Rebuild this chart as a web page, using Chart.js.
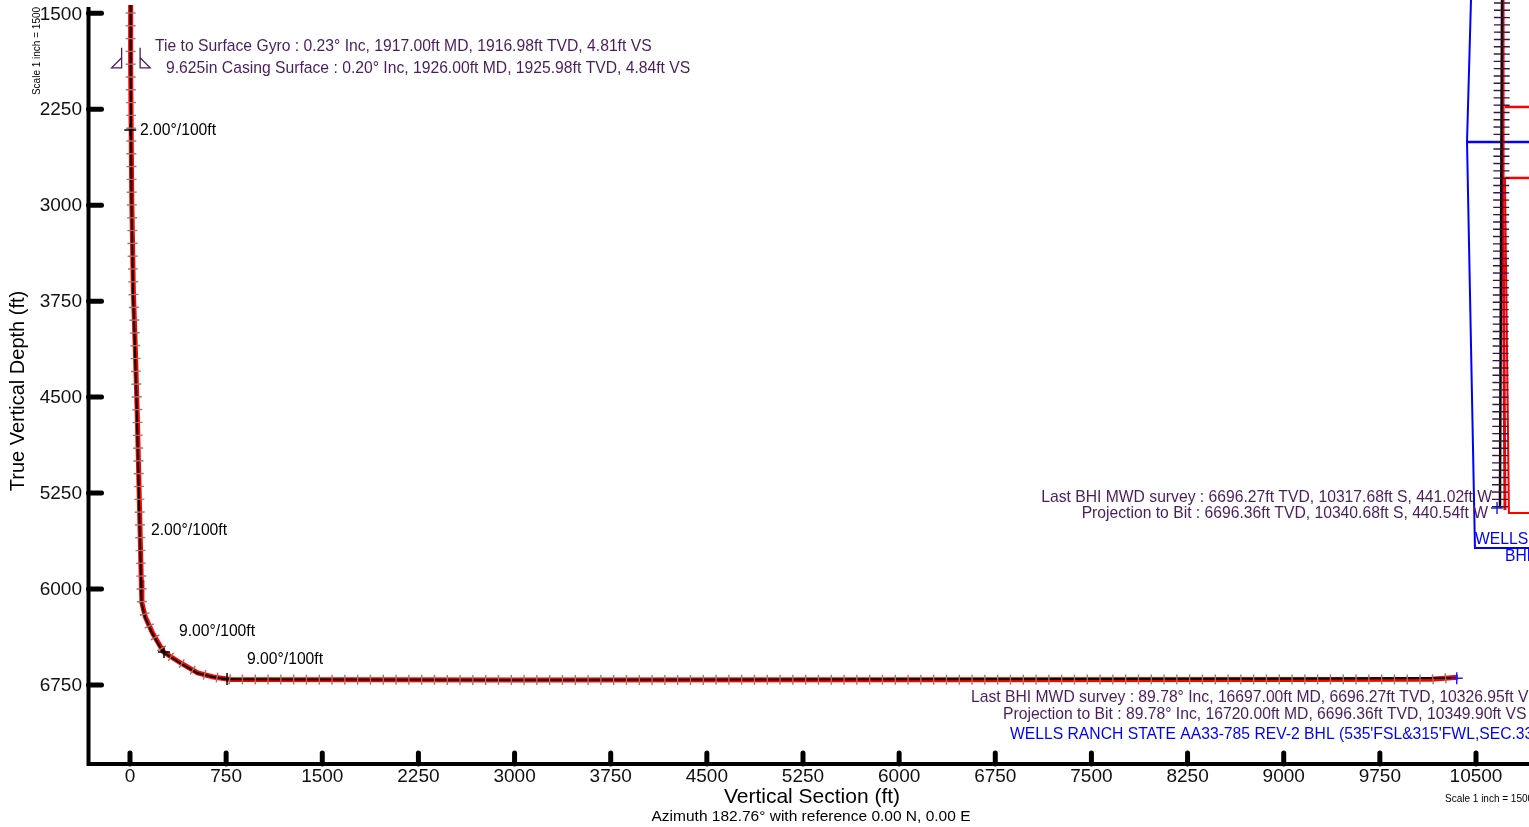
<!DOCTYPE html>
<html><head><meta charset="utf-8">
<script src="https://cdn.jsdelivr.net/npm/chart.js@4.4.1/dist/chart.umd.min.js"></script>
<style>html,body{margin:0;padding:0;background:#fff;overflow:hidden}canvas{display:block}</style>
</head><body>
<canvas id="c" width="1529" height="827"></canvas>
<script>
// ---- tick labels ----
const xTickValues = [0,750,1500,2250,3000,3750,4500,5250,6000,6750,7500,8250,9000,9750,10500];
const yTickValues = [1500,2250,3000,3750,4500,5250,6000,6750];

// ---- actual well path (vertical section) ----
const actualVS  = [4, 4.8, 12, 23, 39, 55, 70, 86, 90, 117, 172, 257, 390, 523, 647, 780, 3000, 6000, 9000, 10326.95, 10349.9];
const actualTVD = [1435, 1917, 2961, 3664, 4133, 4680, 5305, 5930, 6109, 6219, 6344, 6492, 6578, 6656, 6687, 6706, 6710, 6706, 6701, 6696.27, 6696.36];

// ---- planned well path ----
const planVS  = [5, 5, 14, 26, 42, 58, 73, 88, 93, 120, 176, 262, 395, 528, 650, 785, 3000, 6000, 9000, 10150, 10360];
const planTVD = [1435, 1917, 2961, 3664, 4133, 4680, 5305, 5930, 6109, 6219, 6344, 6492, 6578, 6656, 6687, 6707, 6711, 6709, 6707, 6706, 6690];

// ---- dogleg / survey markers ----
const markVS  = [2, 265, 757];
const markTVD = [2412, 6492, 6703];

// ---- end of path (projection to bit) ----
const bitVS  = [10349.9];
const bitTVD = [6696.36];

// ---- casing point ----
const casingVS = 4.84, casingTVD = 1925.98;

// ---- overlay (clipped plan view at right edge) ----
const blueBoundVS  = [10461, 10430, 10492, 10960];
const blueBoundTVD = [1396, 2506, 5679, 5679];
const blueLineVS  = [10430, 10960];
const blueLineTVD = [2506, 2506];
const redLine1VS  = [10726, 10960];
const redLine1TVD = [2232, 2232];
const redLine2VS  = [10726, 10960];
const redLine2TVD = [2787, 2787];
const redBoxVS  = [10726, 10757, 10960];
const redBoxTVD = [2787, 5406, 5406];
const redPathVS  = [10711, 10711, 10726];
const redPathTVD = [1396, 2959, 5382];
const planViewVS  = [10703, 10687];
const planViewTVD = [1396, 5367];
const planBitVS  = [10664];
const planBitTVD = [5367];

const FONT = '"Liberation Sans", Arial, sans-serif';
const PURPLE = '#4a1d5e';

const pts = (xs, ys) => xs.map((x, i) => ({x, y: ys[i]}));

function lineDs(xs, ys, color, width, order, extra) {
  return Object.assign({
    data: pts(xs, ys), showLine: true, borderColor: color, backgroundColor: color,
    borderWidth: width, pointRadius: 0, tension: 0, clip: false, order
  }, extra || {});
}

const tickPlugin = {
  id: 'pathTicks',
  afterDatasetsDraw(chart) {
    const ctx = chart.ctx;
    chart.data.datasets.forEach((ds, i) => {
      if (!ds.pathTicks) return;
      const meta = chart.getDatasetMeta(i);
      const p = meta.data.map(e => ({x: e.x, y: e.y}));
      const t = ds.pathTicks;
      ctx.save();
      ctx.strokeStyle = t.color; ctx.lineWidth = t.width;
      let next = t.offset;
      let acc = 0;
      for (let k = 1; k < p.length; k++) {
        const dx = p[k].x - p[k-1].x, dy = p[k].y - p[k-1].y;
        const L = Math.hypot(dx, dy);
        if (L === 0) continue;
        const ux = dx / L, uy = dy / L;
        while (next <= acc + L) {
          const s = next - acc;
          const cx = p[k-1].x + ux * s, cy = p[k-1].y + uy * s;
          ctx.beginPath();
          ctx.moveTo(cx - uy * t.len, cy + ux * t.len);
          ctx.lineTo(cx + uy * t.len, cy - ux * t.len);
          ctx.stroke();
          next += t.spacing;
        }
        acc += L;
      }
      ctx.restore();
    });
  }
};

const decoPlugin = {
  id: 'deco',
  afterDraw(chart) {
    const ctx = chart.ctx, a = chart.chartArea;
    const xs = chart.scales.x, ys = chart.scales.y;
    ctx.save();
    // axes
    ctx.strokeStyle = '#000'; ctx.lineWidth = 4; ctx.lineJoin = 'miter';
    ctx.beginPath(); ctx.moveTo(a.left, a.top); ctx.lineTo(a.left, a.bottom); ctx.lineTo(a.right + 5, a.bottom); ctx.stroke();
    ctx.lineWidth = 5; ctx.lineCap = 'round';
    yTickValues.forEach(v => { const y = ys.getPixelForValue(v); ctx.beginPath(); ctx.moveTo(a.left, y); ctx.lineTo(a.left + 13, y); ctx.stroke(); });
    xTickValues.forEach(v => { const x = xs.getPixelForValue(v); ctx.beginPath(); ctx.moveTo(x, a.bottom); ctx.lineTo(x, a.bottom - 11); ctx.stroke(); });
    ctx.lineCap = 'butt';

    const txt = (s, x, y, font, color, align) => { ctx.font = font; ctx.fillStyle = color; ctx.textAlign = align || 'left'; ctx.fillText(s, x, y); };
    ctx.textBaseline = 'middle';
    // tick labels
    const tf = '19px ' + FONT;
    yTickValues.forEach(v => txt(String(v), a.left - 6.5, ys.getPixelForValue(v) + 1, tf, '#111', 'right'));
    xTickValues.forEach(v => txt(String(v), xs.getPixelForValue(v), a.bottom + 13, tf, '#111', 'center'));

    // casing symbol
    const cx = xs.getPixelForValue(casingVS), cy = ys.getPixelForValue(casingTVD);
    ctx.strokeStyle = PURPLE; ctx.lineWidth = 1.3;
    ctx.beginPath();
    ctx.moveTo(cx - 9, cy - 20); ctx.lineTo(cx - 9, cy); ctx.lineTo(cx - 19, cy); ctx.lineTo(cx - 9, cy - 10);
    ctx.moveTo(cx + 9.5, cy - 20); ctx.lineTo(cx + 9.5, cy); ctx.lineTo(cx + 19.5, cy); ctx.lineTo(cx + 9.5, cy - 10);
    ctx.stroke();

    // texts
    const f15 = '15.7px ' + FONT;
    txt('Tie to Surface Gyro : 0.23° Inc, 1917.00ft MD, 1916.98ft TVD, 4.81ft VS', 155, 47, f15, PURPLE);
    txt('9.625in Casing Surface : 0.20° Inc, 1926.00ft MD, 1925.98ft TVD, 4.84ft VS', 166, 69, f15, PURPLE);
    txt('2.00°/100ft', 140, 131, f15, '#000');
    txt('2.00°/100ft', 151, 531, f15, '#000');
    txt('9.00°/100ft', 179, 632, f15, '#000');
    txt('9.00°/100ft', 247, 660, f15, '#000');
    txt('Last BHI MWD survey : 89.78° Inc, 16697.00ft MD, 6696.27ft TVD, 10326.95ft VS', 971, 698, f15, PURPLE);
    txt('Projection to Bit : 89.78° Inc, 16720.00ft MD, 6696.36ft TVD, 10349.90ft VS', 1003, 715, f15, PURPLE);
    txt("WELLS RANCH STATE AA33-785 REV-2 BHL (535'FSL&315'FWL,SEC.33)", 1010, 735, f15, '#0000ff');
    txt('Last BHI MWD survey : 6696.27ft TVD, 10317.68ft S, 441.02ft W', 1492, 498, f15, PURPLE, 'right');
    txt('Projection to Bit : 6696.36ft TVD, 10340.68ft S, 440.54ft W', 1488, 514, f15, PURPLE, 'right');
    txt('WELLS RANCH STATE AA33-785 REV-2', 1475, 540, f15, '#0000ff');
    txt('BHL', 1505, 557, f15, '#0000ff');

    txt('Vertical Section (ft)', 812, 797, '21px ' + FONT, '#000', 'center');
    txt('Azimuth 182.76° with reference 0.00 N, 0.00 E', 811, 817, '15.5px ' + FONT, '#000', 'center');
    txt('Scale 1 inch = 1500', 1445, 799, '10px ' + FONT, '#000');

    ctx.save(); ctx.translate(18, 391); ctx.rotate(-Math.PI / 2);
    txt('True Vertical Depth (ft)', 0, 0, '20px ' + FONT, '#000', 'center');
    ctx.restore();
    ctx.save(); ctx.translate(37, 51); ctx.rotate(-Math.PI / 2);
    txt('Scale 1 inch = 1500', 0, 0, '10px ' + FONT, '#000', 'center');
    ctx.restore();
    ctx.restore();
  }
};

const chart = new Chart(document.getElementById('c'), {
  type: 'scatter',
  data: {
    datasets: [
      lineDs(markVS, markTVD, '#000', 1.5, 0, {showLine: false, pointRadius: 6, pointStyle: 'cross', pointBorderWidth: 1.5}),
      lineDs(bitVS, bitTVD, '#2020ff', 1.5, 0, {showLine: false, pointRadius: 6, pointStyle: 'cross', pointBorderWidth: 1.5}),
      lineDs(planBitVS, planBitTVD, '#2020ff', 1.5, 0, {showLine: false, pointRadius: 6, pointStyle: 'cross', pointBorderWidth: 1.5}),
      lineDs(actualVS, actualTVD, '#000', 2, 1),
      lineDs(planVS, planTVD, '#ff0000', 5, 2, {pathTicks: {spacing: 12.8, len: 5, color: '#a87260', width: 1.4, offset: 8}}),
      lineDs(planViewVS, planViewTVD, '#000', 2.5, 1, {pathTicks: {spacing: 7.3, len: 8, color: '#3a1245', width: 1.4, offset: 3}}),
      lineDs(redPathVS, redPathTVD, '#ff0000', 3, 2),
      lineDs(blueBoundVS, blueBoundTVD, '#0000ff', 2, 3),
      lineDs(blueLineVS, blueLineTVD, '#0000ff', 2.5, 3),
      lineDs(redLine1VS, redLine1TVD, '#ff0000', 2.5, 3),
      lineDs(redLine2VS, redLine2TVD, '#ff0000', 2.5, 3),
      lineDs(redBoxVS, redBoxTVD, '#ff0000', 2, 3)
    ]
  },
  options: {
    responsive: false, devicePixelRatio: 1, animation: false,
    layout: {autoPadding: false, padding: {top: 7, right: 0, bottom: 0, left: 0}},
    plugins: {legend: {display: false}, tooltip: {enabled: false}},
    scales: {
      x: {
        type: 'linear', min: -323.7, max: 10913.5,
        grid: {display: false}, border: {display: false},
        afterBuildTicks: s => { s.ticks = xTickValues.map(v => ({value: v})); },
        afterFit: s => { s.height = 63; },
        ticks: {display: false}
      },
      y: {
        type: 'linear', reverse: true, min: 1450.8, max: 7367.5,
        grid: {display: false}, border: {display: false},
        afterBuildTicks: s => { s.ticks = yTickValues.map(v => ({value: v})); },
        afterFit: s => { s.width = 88.5; },
        ticks: {display: false}
      }
    }
  },
  plugins: [tickPlugin, decoPlugin]
});
</script>
</body></html>
